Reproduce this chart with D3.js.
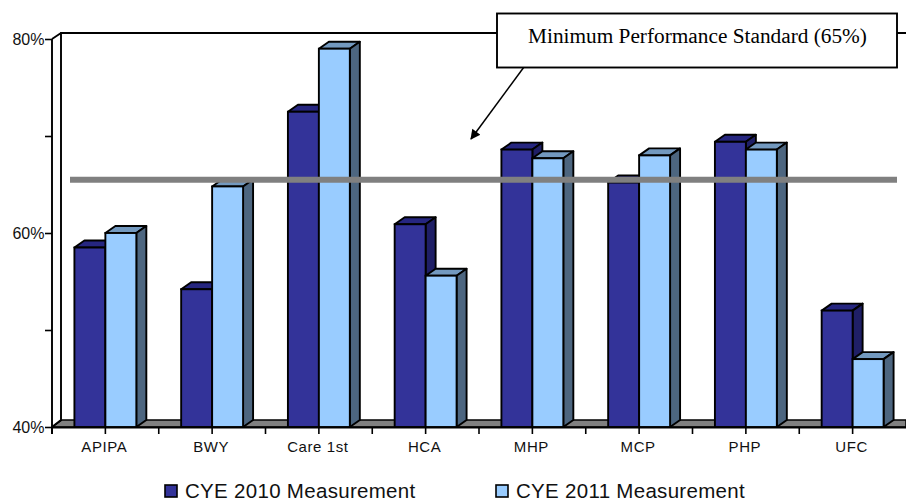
<!DOCTYPE html>
<html><head><meta charset="utf-8">
<script src="https://cdn.jsdelivr.net/npm/d3@7/dist/d3.min.js"></script>
<style>html,body{margin:0;padding:0;background:#fff}svg{display:block}</style>
</head><body><div id="c"></div>
<script>
const categories=["APIPA","BWY","Care 1st","HCA","MHP","MCP","PHP","UFC"];
const cye2010=[58.5,54.2,72.5,60.9,68.6,65.2,69.4,52.0];
const cye2011=[60.0,64.8,79.0,55.6,67.7,68.0,68.6,47.0];
const standardValue=65.5;
const seriesNames=["CYE 2010 Measurement","CYE 2011 Measurement"];
const yTicks=[40,50,60,70,80];
const yLabels=[40,60,80];
const annotation="Minimum Performance Standard (65%)";

const W=906,H=502;
const svg=d3.select("#c").append("svg").attr("width",W).attr("height",H);
const x=d3.scaleBand().domain(categories).range([52,906]);
const y=d3.scaleLinear().domain([40,80]).range([427,39]);
const dx=10,dy=7,bw=x.bandwidth()*0.29;
const ink="#000";
const sw=1.9;
const frame=svg.append("g");
frame.append("path").attr("d",`M52,${y(40)}L${52+dx},${y(40)-dy}H${W}V${y(40)}Z`).attr("fill","#808080").attr("stroke",ink).attr("stroke-width",1.5);
frame.append("path").attr("d",`M52,${y(40)}L${52+dx-1},${y(40)-dy}V${y(80)-6}H${W}M52,${y(80)}L${52+dx-1},${y(80)-6}`).attr("fill","none").attr("stroke",ink).attr("stroke-width",sw);

const yAxis=d3.axisLeft(y).tickValues(yTicks).tickSize(7).tickFormat(d=>yLabels.includes(d)?d+"%":"");
const ga=svg.append("g").attr("transform","translate(52,0)").call(yAxis);
ga.select(".domain").attr("stroke-width",sw).attr("d",`M0,${y(80)}V${y(40)+7}`);
ga.selectAll(".tick line").attr("stroke-width",1.6);
ga.selectAll(".tick text").attr("font-family","Liberation Sans").attr("font-size",16).attr("fill","#111").attr("x",-7.5).attr("dy",".32em").attr("text-anchor","end");

const xAxis=d3.axisBottom(x).tickSize(7).tickSizeOuter(0);
const gb=svg.append("g").attr("transform",`translate(0,${y(40)})`).call(xAxis);
gb.select(".domain").attr("stroke-width",sw);
gb.selectAll(".tick line").attr("stroke-width",1.6);
gb.selectAll(".tick text").attr("font-family","Liberation Sans").attr("font-size",15).attr("letter-spacing",0.6).attr("fill","#111").attr("y",14).attr("dy",".71em").attr("dx",-1);
gb.selectAll("line.edge").data(d3.range(0,categories.length)).join("line").attr("class","edge")
  .attr("x1",i=>x(categories[i])).attr("x2",i=>x(categories[i])).attr("y1",0).attr("y2",7).attr("stroke",ink).attr("stroke-width",1.6);

const palette=[{f:"#333399",t:"#262680",s:"#1f1f66"},{f:"#99ccff",t:"#7399bf",s:"#4d6680"}];
function bar(g,x0,v,c){
  const t=y(v),b=y(40);
  g.append("path").attr("d",`M${x0},${t}l${dx},${-dy}h${bw}l${-dx},${dy}Z`).attr("fill",c.t).attr("stroke",ink).attr("stroke-width",sw).attr("stroke-linejoin","round");
  g.append("path").attr("d",`M${x0+bw},${t}l${dx},${-dy}V${b-dy}l${-dx},${dy}Z`).attr("fill",c.s).attr("stroke",ink).attr("stroke-width",sw).attr("stroke-linejoin","round");
  g.append("rect").attr("x",x0).attr("y",t).attr("width",bw).attr("height",b-t).attr("fill",c.f).attr("stroke",ink).attr("stroke-width",sw);
}
const bars=svg.append("g");
categories.forEach((c,i)=>{
  const mid=x(c)+x.bandwidth()/2;
  bar(bars,mid-bw,cye2010[i],palette[0]);
  bar(bars,mid,cye2011[i],palette[1]);
});

svg.append("line").attr("x1",70).attr("x2",897).attr("y1",y(standardValue)).attr("y2",y(standardValue)).attr("stroke","#808080").attr("stroke-width",6);

svg.append("defs").append("marker").attr("id","arr").attr("viewBox","0 0 10 10").attr("refX",9).attr("refY",5).attr("markerWidth",14).attr("markerHeight",10).attr("markerUnits","userSpaceOnUse").attr("orient","auto")
  .append("path").attr("d","M0,0L10,5L0,10Z").attr("fill",ink);
svg.append("line").attr("x1",524).attr("y1",67).attr("x2",471).attr("y2",139).attr("stroke",ink).attr("stroke-width",1.5).attr("marker-end","url(#arr)");
svg.append("rect").attr("x",497).attr("y",13.5).attr("width",400).attr("height",54).attr("fill","#fff").attr("stroke",ink).attr("stroke-width",sw);
svg.append("text").attr("x",697.5).attr("y",43).attr("text-anchor","middle").attr("font-family","Liberation Serif").attr("font-size",21.3).attr("fill","#000").text(annotation);

const lx=[165,496];
seriesNames.forEach((n,i)=>{
  svg.append("rect").attr("x",lx[i]).attr("y",485).attr("width",12).attr("height",12).attr("fill",palette[i].f).attr("stroke",ink).attr("stroke-width",1.6);
  svg.append("text").attr("x",lx[i]+20).attr("y",498).attr("font-family","Liberation Sans").attr("font-size",20.5).attr("letter-spacing",0.3).attr("fill","#111").text(n);
});
</script></body></html>
